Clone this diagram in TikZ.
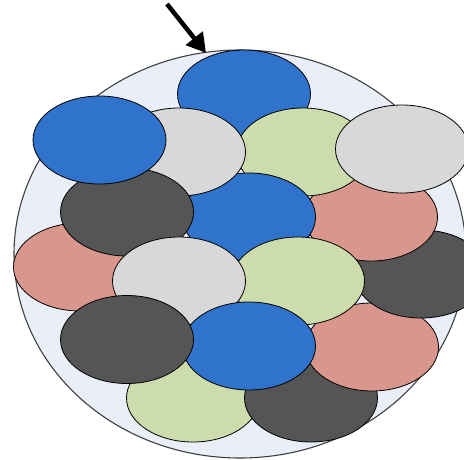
\documentclass[tikz,border=0pt]{standalone}
\usetikzlibrary{arrows.meta}
\definecolor{cblue}{RGB}{47,115,204}
\definecolor{clgray}{RGB}{216,216,216}
\definecolor{cgreen}{RGB}{205,220,172}
\definecolor{cpink}{RGB}{217,150,140}
\definecolor{cdark}{RGB}{85,85,85}
\definecolor{cbg}{RGB}{233,238,248}
\definecolor{cring}{RGB}{64,64,64}
\tikzset{
  cell/.style={draw=black, line width=0.8pt},
  blue/.style={cell, fill=cblue},
  lgray/.style={cell, fill=clgray},
  green/.style={cell, fill=cgreen},
  pink/.style={cell, fill=cpink},
  dark/.style={cell, fill=cdark},
  er/.style={x radius=66.5, y radius=44}
}
\begin{document}
\begin{tikzpicture}[x=1pt,y=-1pt]
\useasboundingbox (0,0) rectangle (464,459);
\fill[white] (0,0) rectangle (464,459);
\begin{scope}
\clip (0,0) rectangle (464,459);
\draw[fill=cbg, draw=cring, line width=1.1pt] (240,254) ellipse [x radius=226, y radius=204];
% bottom to top
\draw[blue]  (244,94)  ellipse [er]; % 1
\draw[pink]  (80,267)  ellipse [er]; % 9
\draw[green] (193,398) ellipse [er]; % 16
\draw[dark]  (311,398) ellipse [er]; % 17
\draw[pink]  (372,347) ellipse [er]; % 15
\draw[dark]  (421,274) ellipse [er]; % 12
\draw[pink]  (371,217) ellipse [er]; % 8
\draw[green] (303,152) ellipse [er]; % 4
\draw[blue]  (249,217) ellipse [er]; % 7
\draw[lgray] (179,152) ellipse [er]; % 3
\draw[lgray] (402,149) ellipse [er]; % 5
\draw[dark]  (127,212) ellipse [er]; % 6
\draw[blue]  (99.5,140) ellipse [er]; % 2
\draw[green] (298,281) ellipse [er]; % 11
\draw[lgray] (179,281) ellipse [er]; % 10
\draw[blue]  (249,346) ellipse [er]; % 14
\draw[dark]  (127,339.5) ellipse [er]; % 13
\end{scope}
\coordinate (tail) at (167,4);
\coordinate (tip) at (206,53);
\draw[line width=4.5pt, -{Triangle[length=19pt,width=21pt]}] (tail) -- (tip);
\end{tikzpicture}
\end{document}
